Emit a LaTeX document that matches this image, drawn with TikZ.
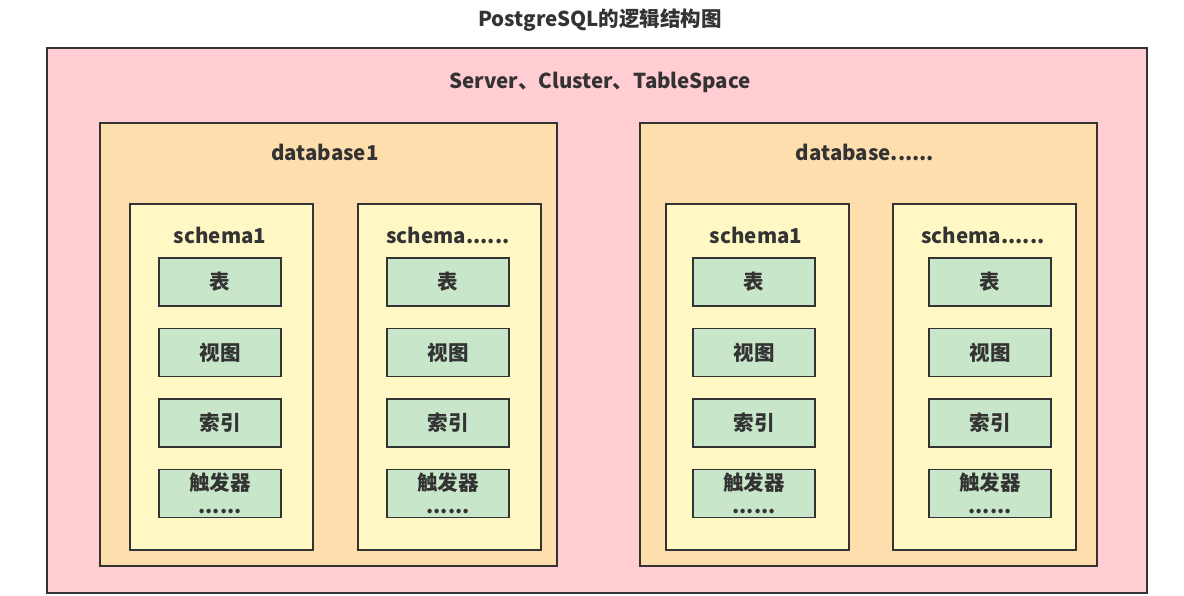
\documentclass[tikz,border=0pt]{standalone}
\usepackage{fontspec}
\newfontfamily\cjk{Noto Sans CJK SC}
\usepackage{tikz}
\usetikzlibrary{positioning}
\definecolor{srvpink}{HTML}{FFCDD2}
\definecolor{dborange}{HTML}{FFDEAE}
\definecolor{schyellow}{HTML}{FFF8C4}
\definecolor{objgreen}{HTML}{C8E6C9}
\definecolor{lineink}{HTML}{333333}
\newcommand{\moredots}{......}

\begin{document}
\begin{tikzpicture}[
  x=1pt, y=-1pt,
  font=\cjk\bfseries\fontsize{20.5}{22}\selectfont,
  text=lineink,
  box/.style={draw=lineink, line width=1.5pt, inner sep=0pt},
  srv/.style={box, fill=srvpink},
  db/.style={box, fill=dborange},
  sch/.style={box, fill=schyellow},
  obj/.style={box, fill=objgreen, minimum width=122pt, minimum height=48pt, align=center},
  ttl/.style={inner sep=0pt, anchor=center}
]
\useasboundingbox (0,0) rectangle (1184,595);
\node[ttl] (title) at (600,20) {PostgreSQL的逻辑结构图};

% server
\draw[srv] (47,48) rectangle (1147,593);
\node[ttl] (srvlbl) at (600,82) {Server、Cluster、TableSpace};

% databases
\foreach \dx/\dname/\d/\sa/\sb/\ia/\ib in {100/database1/1/30/258/90/90, 640/database\moredots/2/26/253/88/97}{
  \draw[db] (\dx,123) rectangle ++(457,443);
  \node[ttl] (db\d) at (\dx+225,152) {\dname};
  % schemas
  \foreach \sx/\ix/\sname/\s in {\sa/\ia/schema1/1, \sb/\ib/schema\moredots/2}{
    \draw[sch] (\dx+\sx,204) rectangle ++(183,346);
    \node[ttl] (sch\d\s) at (\dx+\sx+90,235) {\sname};
    \node[obj] (tab\d\s) at (\dx+\sx+\ix,282) {表};
    \node[obj, below=21pt of tab\d\s] (view\d\s) {视图};
    \node[obj, below=21pt of view\d\s] (idx\d\s) {索引};
    \node[obj, below=21pt of idx\d\s, font=\cjk\bfseries\fontsize{20.5}{27}\selectfont] (trg\d\s) {触发器\\[-4pt]\moredots};
  }
}
\end{tikzpicture}
\end{document}
